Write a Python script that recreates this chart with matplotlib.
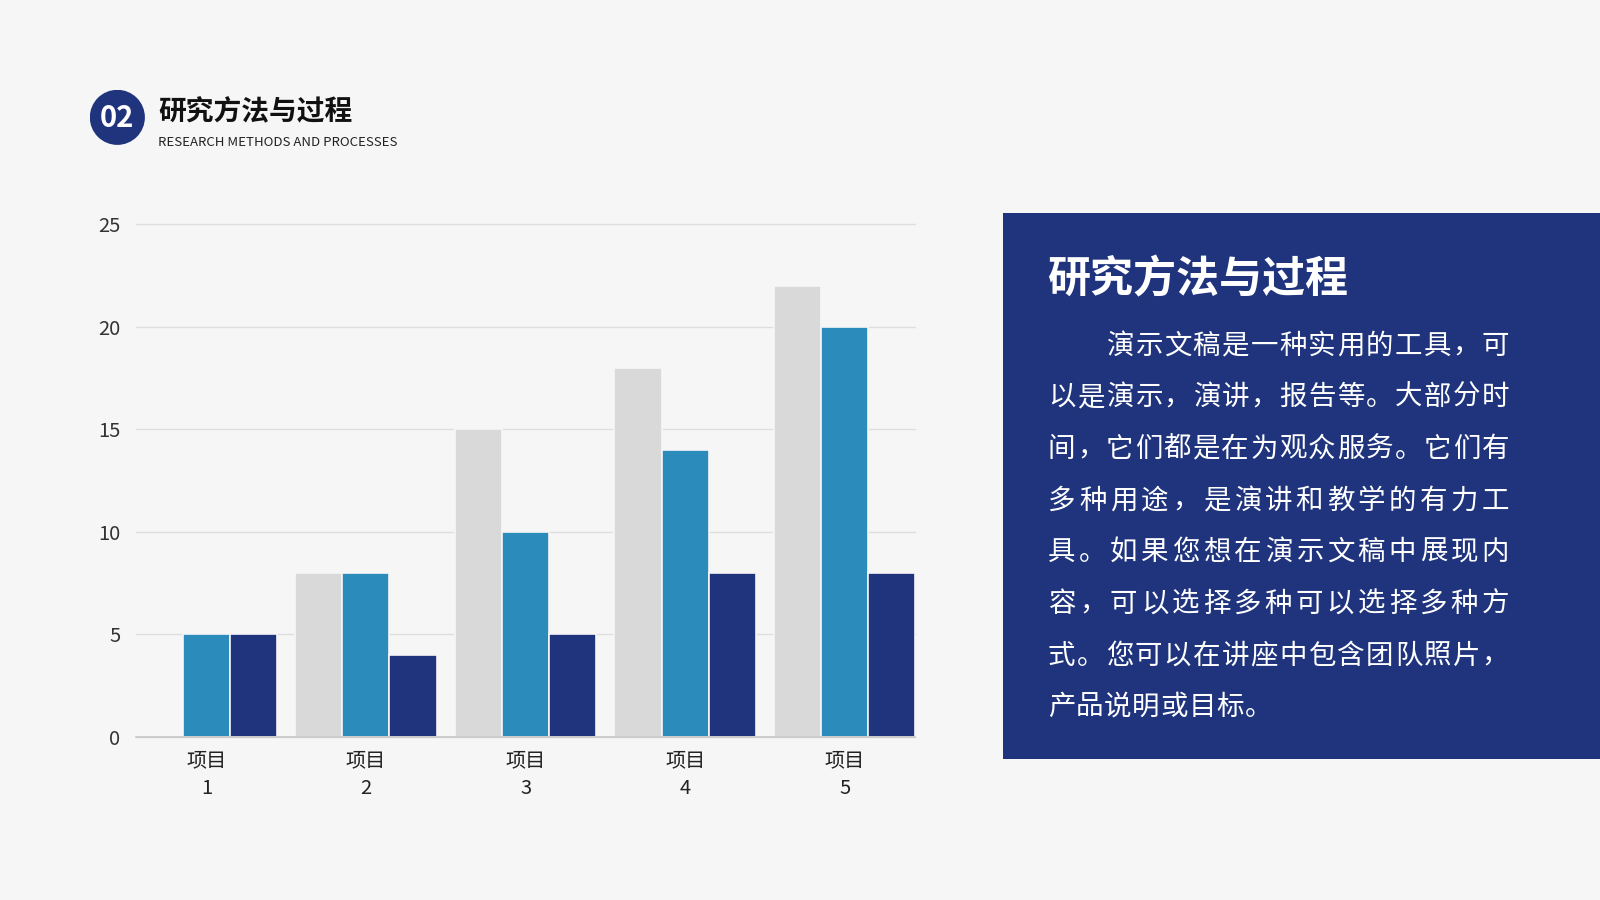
import matplotlib
matplotlib.use("Agg")
import matplotlib.pyplot as plt
from matplotlib.patches import Circle, Rectangle
import numpy as np

plt.rcParams['font.family'] = ['Noto Sans CJK SC', 'DejaVu Sans']

# ---- data ----
categories = ["项目\n1", "项目\n2", "项目\n3", "项目\n4", "项目\n5"]
series_gray = [0, 8, 15, 18, 22]
series_teal = [5, 8, 10, 14, 20]
series_navy = [5, 4, 5, 8, 8]
yticks = [0, 5, 10, 15, 20, 25]

header_title = "研究方法与过程"
header_sub = "RESEARCH METHODS AND PROCESSES"
header_num = "02"
panel_title = "研究方法与过程"
panel_lines = [
    "\u3000\u3000演示文稿是一种实用的工具，可",
    "以是演示，演讲，报告等。大部分时",
    "间，它们都是在为观众服务。它们有",
    "多种用途，是演讲和教学的有力工",
    "具。如果您想在演示文稿中展现内",
    "容，可以选择多种可以选择多种方",
    "式。您可以在讲座中包含团队照片，",
    "产品说明或目标。",
]

BG = "#f6f6f6"
GRAY = "#d9d9d9"
TEAL = "#2b8bbb"
NAVY = "#1f347d"

W, H = 1568.0, 882.0
def fx(x): return x / W
def fy(y): return 1 - y / H

fig = plt.figure(figsize=(16, 9), dpi=100)
fig.patch.set_facecolor(BG)

# ---- header ----
hax = fig.add_axes([fx(88), fy(142), 54 / W, 54 / H])
hax.set_xlim(-1, 1); hax.set_ylim(-1, 1); hax.set_aspect('equal')
hax.axis('off')
hax.add_patch(Circle((0, 0), 1, facecolor=NAVY, edgecolor='none'))
hax.text(0, -0.04, header_num, color='white', fontsize=21, fontweight='bold',
         ha='center', va='center')

fig.text(fx(155), fy(118), header_title, fontsize=20, fontweight='black',
         color='#111111', ha='left', va='baseline')
fig.text(fx(155), fy(143), header_sub, fontsize=9.5, color='#222222',
         ha='left', va='baseline')

# ---- chart ----
ax = fig.add_axes([fx(133), fy(722), (897 - 133) / W, (722 - 220) / H])
ax.set_facecolor(BG)
x = np.arange(len(categories))
w = 0.295
ax.bar(x - w, series_gray, w, color=GRAY, edgecolor=BG, linewidth=1.2, zorder=3)
ax.bar(x, series_teal, w, color=TEAL, edgecolor=BG, linewidth=1.2, zorder=3)
ax.bar(x + w, series_navy, w, color=NAVY, edgecolor=BG, linewidth=1.2, zorder=3)
ax.set_xlim(-1.5 * w, len(categories) - 1 + 1.5 * w)
ax.set_ylim(0, 25)
ax.set_yticks(yticks)
ax.set_yticklabels([str(v) for v in yticks])
ax.set_xticks(x)
ax.set_xticklabels(categories, linespacing=1.4)
for sp in ['top', 'right', 'left']:
    ax.spines[sp].set_visible(False)
ax.spines['bottom'].set_color('#c8c8c8')
ax.spines['bottom'].set_linewidth(1.2)
ax.spines['bottom'].set_zorder(4)
ax.yaxis.grid(True, color='#dedede', linewidth=1.0, zorder=0)
ax.tick_params(axis='both', length=0)
ax.tick_params(axis='y', pad=11, labelsize=14.5, labelcolor='#333333')
ax.tick_params(axis='x', pad=10, labelsize=14.5, labelcolor='#222222')
for gl in ax.get_ygridlines():
    gl.set_clip_on(False)

# ---- right panel ----
fig.patches.append(Rectangle((fx(983), fy(744)), (W - 983) / W, (744 - 209) / H,
                             transform=fig.transFigure, facecolor=NAVY,
                             edgecolor='none', zorder=0))
fig.text(fx(1026), fy(287), panel_title, fontsize=31, fontweight='bold',
         color='white', ha='left', va='baseline')

em = 27.0
L, R = 1027.0, 1479.0
line_centers = [336, 386.5, 437, 488, 538, 589, 640, 690]
for i, line in enumerate(panel_lines):
    n = len(line)
    base = line_centers[i] + 10.5
    if i < len(panel_lines) - 1:
        pitch = (R - L - em) / (n - 1)
    else:
        pitch = em + 0.5
    for j, ch in enumerate(line):
        if ch == "\u3000":
            continue
        fig.text(fx(L + j * pitch), fy(base), ch, fontsize=19.8, color='white',
                 ha='left', va='baseline')

fig.savefig("out.png", dpi=100, facecolor=BG)
